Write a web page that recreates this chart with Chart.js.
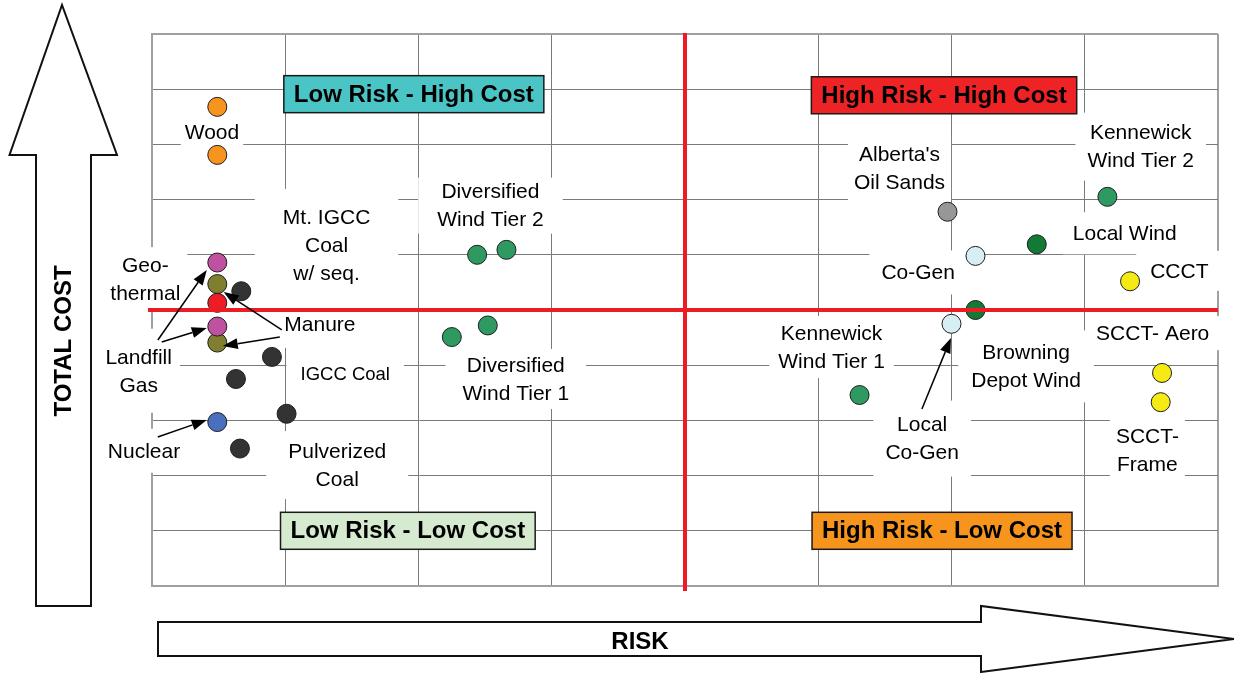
<!DOCTYPE html>
<html>
<head>
<meta charset="utf-8">
<script src="https://cdn.jsdelivr.net/npm/chart.js@4.4.1/dist/chart.umd.min.js"></script>
<style>
  html, body { margin: 0; padding: 0; background: #fff; }
  #wrap { width: 1234px; height: 673px; }
</style>
</head>
<body>
<div id="wrap"><canvas id="chart1" width="1234" height="673"></canvas></div>
<script>
// Risk (x, 0..8) and total cost (y, 0..10)
const redRisk      = [0.49];
const redCost      = [5.13];
const woodRisk     = [0.49, 0.49];
const woodCost     = [8.68, 7.81];
const magentaRisk  = [0.49, 0.49];
const magentaCost  = [5.86, 4.70];
const oliveRisk    = [0.49, 0.49];
const oliveCost    = [5.47, 4.41];
const coalRisk     = [0.67, 0.90, 0.63, 1.01, 0.66];
const coalCost     = [5.34, 4.15, 3.75, 3.12, 2.49];
const nuclearRisk  = [0.49];
const nuclearCost  = [2.97];
const divWindRisk  = [2.44, 2.66, 2.52, 2.25];
const divWindCost  = [6.00, 6.09, 4.72, 4.51];
const kennRisk     = [7.17, 5.31];
const kennCost     = [7.05, 3.46];
const localWindRisk = [6.64, 6.18];
const localWindCost = [6.19, 5.00];
const oilSandsRisk = [5.97];
const oilSandsCost = [6.78];
const coGenRisk    = [6.18, 6.00];
const coGenCost    = [5.98, 4.75];
const turbineRisk  = [7.34, 7.58, 7.57];
const turbineCost  = [5.52, 3.86, 3.33];

const xTicksMax = 8;
const yTicksMax = 10;
const riskSplit = 4;
const costSplit = 5;

function pts(xs, ys) {
  return xs.map((x, i) => ({ x: x, y: ys[i] }));
}

// index 0 is painted last (on top)
const series = [
  { label: "Geothermal",      data: pts(redRisk, redCost),           color: "#ee1c24" },
  { label: "Wood",            data: pts(woodRisk, woodCost),         color: "#f7941d" },
  { label: "Landfill Gas",    data: pts(magentaRisk, magentaCost),   color: "#c050a0" },
  { label: "Manure",          data: pts(oliveRisk, oliveCost),       color: "#7f7f2f" },
  { label: "Coal",            data: pts(coalRisk, coalCost),         color: "#333333" },
  { label: "Nuclear",         data: pts(nuclearRisk, nuclearCost),   color: "#4a6fbf" },
  { label: "Diversified Wind", data: pts(divWindRisk, divWindCost),  color: "#2e9a62" },
  { label: "Kennewick Wind",  data: pts(kennRisk, kennCost),         color: "#2e9a62" },
  { label: "Local Wind",      data: pts(localWindRisk, localWindCost), color: "#137a36" },
  { label: "Oil Sands",       data: pts(oilSandsRisk, oilSandsCost), color: "#979797" },
  { label: "Co-Gen",          data: pts(coGenRisk, coGenCost),       color: "#d6eef4" },
  { label: "Gas Turbines",    data: pts(turbineRisk, turbineCost),   color: "#f5ea14" }
];

// text annotations, anchored in data units
const notes = [
  { lines: ["Wood"], x: 0.45, y: 8.22, pad: [4, 0] },
  { lines: ["Geo-", "thermal"], x: -0.05, y: 5.56, pad: [7, 4] },
  { lines: ["Landfill", "Gas"], x: -0.10, y: 3.90, pad: [8, 14] },
  { lines: ["Nuclear"], x: -0.06, y: 2.45, pad: [8, 8] },
  { lines: ["Manure"], x: 1.26, y: 4.75, pad: [6, 10] },
  { lines: ["Mt. IGCC", "Coal", "w/ seq."], x: 1.31, y: 6.18, pad: [28, 14] },
  { lines: ["IGCC Coal"], x: 1.45, y: 3.84, pad: [14, 10], size: 18.5 },
  { lines: ["Pulverized", "Coal"], x: 1.39, y: 2.19, pad: [22, 6] },
  { lines: ["Diversified", "Wind Tier 2"], x: 2.54, y: 6.89, pad: [19, 0] },
  { lines: ["Diversified", "Wind Tier 1"], x: 2.73, y: 3.75, pad: [17, 2] },
  { lines: ["Alberta's", "Oil Sands"], x: 5.61, y: 7.57, pad: [6, 4] },
  { lines: ["Kennewick", "Wind Tier 2"], x: 7.42, y: 7.96, pad: [12, 6] },
  { lines: ["Local Wind"], x: 7.30, y: 6.39, pad: [10, 7] },
  { lines: ["Co-Gen"], x: 5.75, y: 5.68, pad: [12, 8] },
  { lines: ["CCCT"], x: 7.71, y: 5.71, pad: [14, 6] },
  { lines: ["SCCT- Aero"], x: 7.51, y: 4.58, pad: [10, 3] },
  { lines: ["Kennewick", "Wind Tier 1"], x: 5.10, y: 4.33, pad: [9, 3] },
  { lines: ["Browning", "Depot Wind"], x: 6.56, y: 3.98, pad: [13, 8] },
  { lines: ["Local", "Co-Gen"], x: 5.78, y: 2.67, pad: [12, 10] },
  { lines: ["SCCT-", "Frame"], x: 7.47, y: 2.46, pad: [6, 5] }
];

const quadrants = [
  { text: "Low Risk - High Cost",  x: 1.965, y: 8.91, fill: "#4bc4c6" },
  { text: "High Risk - High Cost", x: 5.944, y: 8.89, fill: "#ee2326" },
  { text: "Low Risk - Low Cost",   x: 1.92,  y: 1.00, fill: "#d5eacf" },
  { text: "High Risk - Low Cost",  x: 5.929, y: 1.00, fill: "#f7941d" }
];

// pointer arrows [fromX, fromY, toX, toY] in data units
const pointers = [
  [0.044, 4.457, 0.411, 5.725],
  [0.073, 4.42, 0.411, 4.674],
  [0.974, 4.638, 0.538, 5.326],
  [0.959, 4.511, 0.531, 4.348],
  [0.043, 2.70, 0.411, 3.007],
  [5.778, 3.207, 5.996, 4.493]
];

const FONT = '"Liberation Sans", Arial, sans-serif';

function arrowLine(ctx, x1, y1, x2, y2) {
  const a = Math.atan2(y2 - y1, x2 - x1);
  const len = 15, half = 5.5;
  const bx = x2 - len * Math.cos(a), by = y2 - len * Math.sin(a);
  ctx.beginPath();
  ctx.moveTo(x1, y1);
  ctx.lineTo(bx, by);
  ctx.stroke();
  ctx.beginPath();
  ctx.moveTo(x2, y2);
  ctx.lineTo(bx + half * Math.sin(a), by - half * Math.cos(a));
  ctx.lineTo(bx - half * Math.sin(a), by + half * Math.cos(a));
  ctx.closePath();
  ctx.fill();
}

const extras = {
  id: 'extras',
  beforeDatasetsDraw(chart) {
    const ctx = chart.ctx;
    const xs = chart.scales.x, ys = chart.scales.y;
    ctx.save();
    ctx.textAlign = 'center';
    ctx.textBaseline = 'middle';

    // white boxes first, then the words
    const boxes = notes.map(n => {
      ctx.font = (n.size || 21) + 'px ' + FONT;
      const w = Math.max(...n.lines.map(t => ctx.measureText(t).width));
      const h = n.lines.length * 28;
      return { n: n, cx: xs.getPixelForValue(n.x), cy: ys.getPixelForValue(n.y), w: w, h: h };
    });
    ctx.fillStyle = '#fff';
    boxes.forEach(b => {
      const p = b.n.pad;
      ctx.fillRect(b.cx - b.w / 2 - p[0], b.cy - b.h / 2 - p[1], b.w + 2 * p[0], b.h + 2 * p[1]);
    });
    ctx.fillStyle = '#000';
    boxes.forEach(b => {
      ctx.font = (b.n.size || 21) + 'px ' + FONT;
      b.n.lines.forEach((t, i) => ctx.fillText(t, b.cx, b.cy - b.h / 2 + 15 + i * 28));
    });

    // quadrant tags
    ctx.font = 'bold 24px ' + FONT;
    quadrants.forEach(q => {
      const cx = xs.getPixelForValue(q.x), cy = ys.getPixelForValue(q.y);
      const w = ctx.measureText(q.text).width + 20, h = 37;
      ctx.fillStyle = q.fill;
      ctx.fillRect(cx - w / 2, cy - h / 2, w, h);
      ctx.lineWidth = 1.5;
      ctx.strokeStyle = '#1a1a1a';
      ctx.strokeRect(cx - w / 2, cy - h / 2, w, h);
      ctx.fillStyle = '#000';
      ctx.fillText(q.text, cx, cy + 1);
    });
    ctx.restore();
  },
  afterDatasetsDraw(chart) {
    const ctx = chart.ctx;
    const xs = chart.scales.x, ys = chart.scales.y;
    const area = chart.chartArea;
    ctx.save();
    // red split lines
    ctx.strokeStyle = '#ed1c24';
    ctx.lineWidth = 4;
    const rx = xs.getPixelForValue(riskSplit);
    const ry = ys.getPixelForValue(costSplit);
    ctx.beginPath();
    ctx.moveTo(rx, area.top - 1);
    ctx.lineTo(rx, area.bottom + 5);
    ctx.moveTo(area.left - 4, ry);
    ctx.lineTo(area.right, ry);
    ctx.stroke();

    // pointers
    ctx.strokeStyle = '#000';
    ctx.fillStyle = '#000';
    ctx.lineWidth = 1.5;
    pointers.forEach(p => {
      arrowLine(ctx, xs.getPixelForValue(p[0]), ys.getPixelForValue(p[1]),
                     xs.getPixelForValue(p[2]), ys.getPixelForValue(p[3]));
    });
    ctx.restore();
  },
  afterDraw(chart) {
    const ctx = chart.ctx;
    ctx.save();
    ctx.strokeStyle = '#111';
    ctx.fillStyle = '#fff';
    ctx.lineWidth = 2;
    ctx.lineJoin = 'miter';

    // vertical TOTAL COST arrow
    ctx.beginPath();
    ctx.moveTo(36, 606);
    ctx.lineTo(36, 155);
    ctx.lineTo(9.5, 155);
    ctx.lineTo(62, 5);
    ctx.lineTo(117, 155);
    ctx.lineTo(91, 155);
    ctx.lineTo(91, 606);
    ctx.closePath();
    ctx.fill();
    ctx.stroke();

    // horizontal RISK arrow
    ctx.beginPath();
    ctx.moveTo(158, 622);
    ctx.lineTo(981, 622);
    ctx.lineTo(981, 606);
    ctx.lineTo(1234, 639);
    ctx.lineTo(981, 672);
    ctx.lineTo(981, 656);
    ctx.lineTo(158, 656);
    ctx.closePath();
    ctx.fill();
    ctx.stroke();

    ctx.fillStyle = '#000';
    ctx.font = 'bold 24px ' + FONT;
    ctx.textAlign = 'center';
    ctx.textBaseline = 'middle';
    ctx.fillText('RISK', 640, 642);
    ctx.translate(63, 341);
    ctx.rotate(-Math.PI / 2);
    ctx.fillText('TOTAL COST', 0, 1);
    ctx.restore();
  }
};

function edgeWidth(c, max) {
  return (c.tick && (c.tick.value === max)) ? 2 : 1;
}
function edgeColor(c, max) {
  return (c.tick && (c.tick.value === max)) ? '#a0a0a0' : '#7a7a7a';
}

const config = {
  type: 'scatter',
  data: {
    datasets: series.map(s => ({
      label: s.label,
      data: s.data,
      backgroundColor: s.color,
      borderColor: '#1e1e1e',
      borderWidth: 1,
      pointRadius: 9.5,
      pointHoverRadius: 9.5
    }))
  },
  options: {
    responsive: false,
    animation: false,
    events: [],
    layout: { padding: { left: 152, top: 34, right: 16, bottom: 87 } },
    plugins: {
      legend: { display: false },
      tooltip: { enabled: false }
    },
    scales: {
      x: {
        type: 'linear',
        min: 0,
        max: xTicksMax,
        ticks: { display: false, stepSize: 1 },
        grid: {
          drawTicks: false,
          color: c => edgeColor(c, xTicksMax),
          lineWidth: c => edgeWidth(c, xTicksMax)
        },
        border: { display: true, color: '#a0a0a0', width: 2 }
      },
      y: {
        type: 'linear',
        min: 0,
        max: yTicksMax,
        ticks: { display: false, stepSize: 1 },
        grid: {
          drawTicks: false,
          color: c => edgeColor(c, yTicksMax),
          lineWidth: c => edgeWidth(c, yTicksMax)
        },
        border: { display: true, color: '#a0a0a0', width: 2 }
      }
    }
  },
  plugins: [extras]
};

const myChart = new Chart(document.getElementById('chart1').getContext('2d'), config);
</script>
</body>
</html>
